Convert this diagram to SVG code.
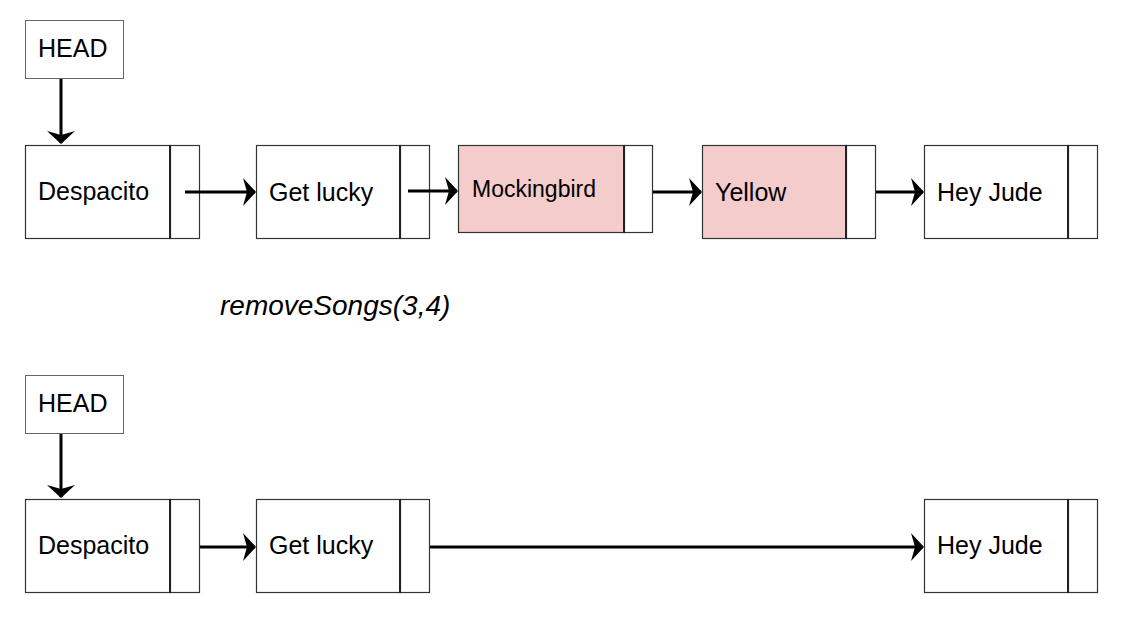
<svg xmlns="http://www.w3.org/2000/svg" width="1138" height="642" viewBox="0 0 1138 642">
<style>
.head{fill:#fff;stroke:#666;stroke-width:1}
.box{fill:#fff;stroke:#333;stroke-width:1.2}
.pink{fill:#f4cccc;stroke:#333;stroke-width:1.2}
.div{stroke:#222;stroke-width:2}
.t{font-family:"Liberation Sans",Arial,sans-serif;font-size:25px;fill:#000}
.conn{stroke:#000;stroke-width:3;fill:none;marker-end:url(#ah)}
</style>
<defs>
<marker id="ah" markerUnits="userSpaceOnUse" viewBox="0 0 13 28" refX="12" refY="14" markerWidth="13" markerHeight="28" orient="auto">
<path d="M0,0 L13,14 L0,28 L4,14 z" fill="#000"/>
</marker>
</defs>
<rect width="1138" height="642" fill="#fff"/>
<g id="head1"><rect class="head" x="25.5" y="20.5" width="98" height="58"/><text class="t" x="38" y="57">HEAD</text></g>
<g id="despacito1"><rect class="box" x="25.5" y="145.5" width="145" height="93"/><rect class="box" x="170.5" y="145.5" width="29" height="93"/><line class="div" x1="170" y1="145" x2="170" y2="239"/><text class="t" x="38" y="200">Despacito</text></g>
<g id="getlucky1"><rect class="box" x="256.5" y="145.5" width="144" height="93"/><rect class="box" x="400.5" y="145.5" width="29" height="93"/><line class="div" x1="400" y1="145" x2="400" y2="239"/><text class="t" x="269" y="201">Get lucky</text></g>
<g id="mockingbird1"><rect class="pink" x="458.5" y="145.5" width="166" height="87"/><rect class="box" x="624.5" y="145.5" width="28" height="87"/><line class="div" x1="624" y1="145" x2="624" y2="233"/><text class="t" x="472" y="197" style="font-size:23px">Mockingbird</text></g>
<g id="yellow1"><rect class="pink" x="702.5" y="145.5" width="144" height="93"/><rect class="box" x="846.5" y="145.5" width="29" height="93"/><line class="div" x1="846" y1="145" x2="846" y2="239"/><text class="t" x="715" y="201">Yellow</text></g>
<g id="heyjude1"><rect class="box" x="924.5" y="145.5" width="144" height="93"/><rect class="box" x="1068.5" y="145.5" width="29" height="93"/><line class="div" x1="1068" y1="145" x2="1068" y2="239"/><text class="t" x="937" y="201">Hey Jude</text></g>
<g id="label"><text class="t" x="220" y="315" style="font-size:28px;font-style:italic">removeSongs(3,4)</text></g>
<g id="head2"><rect class="head" x="25.5" y="375.5" width="98" height="58"/><text class="t" x="38" y="412">HEAD</text></g>
<g id="despacito2"><rect class="box" x="25.5" y="499.5" width="145" height="93"/><rect class="box" x="170.5" y="499.5" width="29" height="93"/><line class="div" x1="170" y1="499" x2="170" y2="593"/><text class="t" x="38" y="554">Despacito</text></g>
<g id="getlucky2"><rect class="box" x="256.5" y="499.5" width="144" height="93"/><rect class="box" x="400.5" y="499.5" width="29" height="93"/><line class="div" x1="400" y1="499" x2="400" y2="593"/><text class="t" x="269" y="554">Get lucky</text></g>
<g id="heyjude2"><rect class="box" x="924.5" y="499.5" width="144" height="93"/><rect class="box" x="1068.5" y="499.5" width="29" height="93"/><line class="div" x1="1068" y1="499" x2="1068" y2="593"/><text class="t" x="937" y="554">Hey Jude</text></g>
<g id="connectors">
<line class="conn" x1="61" y1="79" x2="61" y2="143"/>
<line class="conn" x1="185" y1="192" x2="255" y2="192"/>
<line class="conn" x1="408" y1="191" x2="457" y2="191"/>
<line class="conn" x1="653" y1="192" x2="701" y2="192"/>
<line class="conn" x1="876" y1="192" x2="923" y2="192"/>
<line class="conn" x1="61" y1="434" x2="61" y2="497"/>
<line class="conn" x1="200" y1="547" x2="255" y2="547"/>
<line class="conn" x1="430" y1="547" x2="923" y2="547"/>
</g>
</svg>
